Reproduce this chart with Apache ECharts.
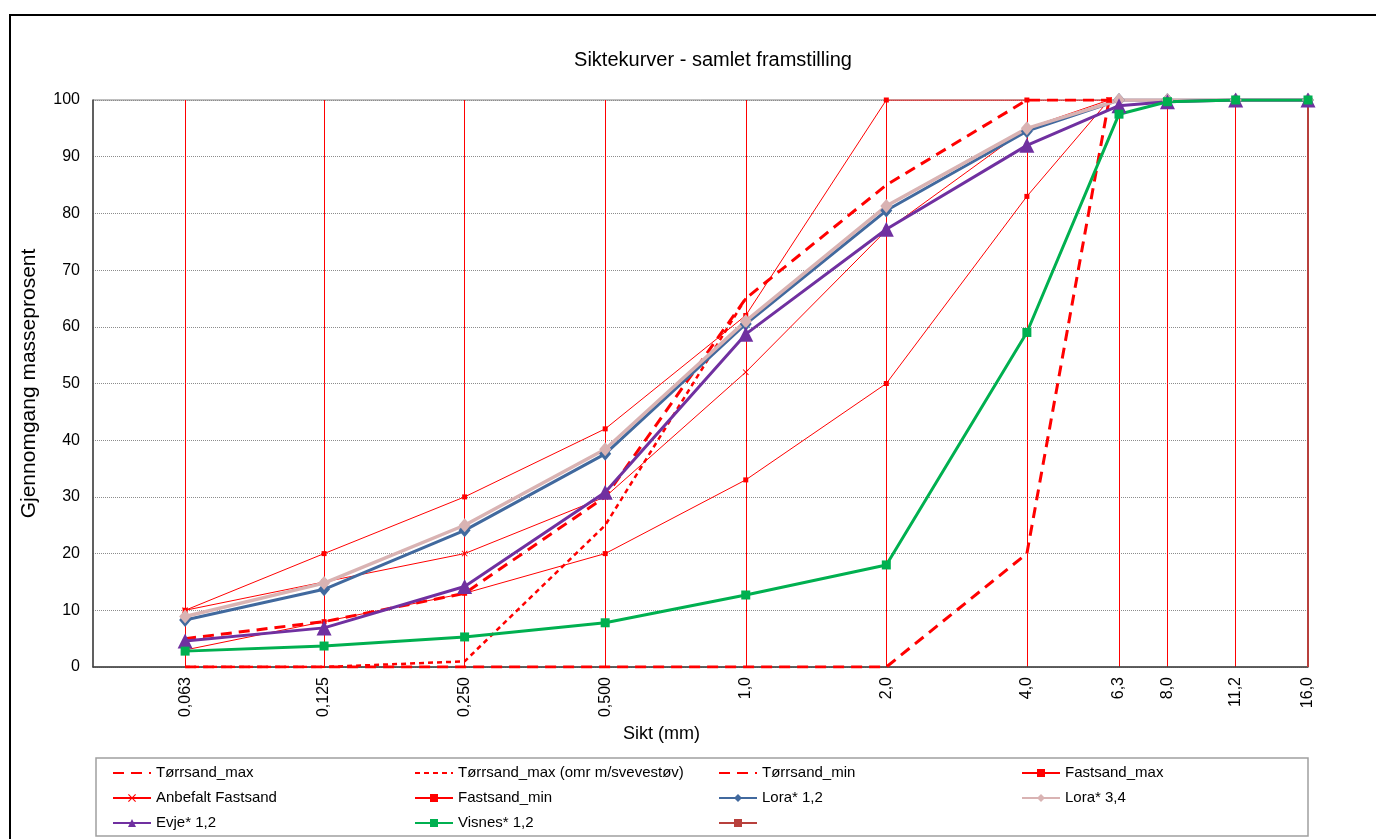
<!DOCTYPE html>
<html>
<head>
<meta charset="utf-8">
<title>Siktekurver - samlet framstilling</title>
<script src="https://cdn.jsdelivr.net/npm/echarts@6/dist/echarts.min.js"></script>
<style>
html,body{margin:0;padding:0;background:#fff;}
#chart{width:1376px;height:839px;}
</style>
</head>
<body>
<div id="chart"></div>
<script>
// siktene (mm)
var sikt_krav=[0.063,0.125,0.25,0.5,1,2,4,6];
var sikt_prove=[0.063,0.125,0.25,0.5,1,2,4,6.3,8,11.2,16];
var sikt_labels=["0,063","0,125","0,250","0,500","1,0","2,0","4,0","6,3","8,0","11,2","16,0"];

// kravkurver (masseprosent)
var torrsand_max=[5,8,13,30,65,85,100,100];
var torrsand_omr=[0,0,1,25,65,null,null,null];
var torrsand_min=[0,0,0,0,0,0,20,100];
var fastsand_max=[10,20,30,42,62,100,100,100];
var anbefalt_fastsand=[10,15,20,30,52,77,95,100];
var fastsand_min=[3,8,13,20,33,50,83,100];

// prøver
var lora12=[8.3,13.7,24.1,37.6,60.5,80.5,94.5,100,100,100,100];
var lora34=[8.9,14.8,25,38.4,61,81.3,95,100,100,100,100];
var evje12=[4.6,6.9,14.2,30.8,58.7,77.2,92,99,99.7,100,100];
var visnes12=[2.8,3.7,5.3,7.8,12.7,18,59,97.5,99.7,100,100];

// serie uten navn (strek ved 16 mm)
var siste_x=[16,16];
var siste_y=[0,100];

var font="'Liberation Sans', Arial, sans-serif";

function par(xs,ys){
    return xs.map(function(x,i){return [x,ys[i]];});
}

function siktLabel(v){
    var best=0;
    for(var i=1;i<sikt_prove.length;i++){
        if(Math.abs(Math.log(sikt_prove[i]/v))<Math.abs(Math.log(sikt_prove[best]/v))) best=i;
    }
    return sikt_labels[best];
}

var xSymbol='path://M0,1L1,0L5,4L9,0L10,1L6,5L10,9L9,10L5,6L1,10L0,9L4,5Z';

function kravSerie(navn,data,stil){
    var s={
        name:navn,
        type:'line',
        data:data,
        symbol:'none',
        lineStyle:{color:'#ff0000',width:1},
        itemStyle:{color:'#ff0000'}
    };
    for(var k in stil) s[k]=stil[k];
    return s;
}

// legend: 4 kolonner
var legendCols=[
    {left:112,names:['Tørrsand_max','Anbefalt Fastsand','Evje* 1,2']},
    {left:414,names:['Tørrsand_max (omr m/svevestøv)','Fastsand_min','Visnes* 1,2']},
    {left:718,names:['Tørrsand_min','Lora* 1,2',' ']},
    {left:1021,names:['Fastsand_max','Lora* 3,4']}
];
var utenSymbol=['Tørrsand_max','Tørrsand_max (omr m/svevestøv)','Tørrsand_min'];
var legends=legendCols.map(function(c){
    return {
        orient:'vertical',
        left:c.left,
        top:764,
        height:80,
        padding:0,
        itemWidth:38,
        itemHeight:10,
        itemGap:7,
        textStyle:{fontSize:15,color:'#000',fontFamily:font,lineHeight:18},
        data:c.names.map(function(n){
            if(utenSymbol.indexOf(n)>=0) return {name:n,itemStyle:{opacity:0}};
            return n;
        })
    };
});

var chart=echarts.init(document.getElementById("chart"));
var option={
    animation:false,
    backgroundColor:'#fff',
    textStyle:{fontFamily:font},
    title:{
        text:'Siktekurver - samlet framstilling',
        left:708,
        top:45,
        textAlign:'center',
        textStyle:{fontSize:20,fontWeight:'normal',color:'#000',fontFamily:font}
    },
    graphic:[
        {type:'rect',shape:{x:10,y:15,width:1400,height:900},style:{fill:null,stroke:'#000',lineWidth:2},silent:true},
        {type:'rect',shape:{x:96,y:758,width:1212,height:78},style:{fill:null,stroke:'#a0a0a0',lineWidth:1.5},silent:true}
    ],
    legend:legends,
    grid:{
        left:93,
        right:68,
        top:100,
        bottom:172,
        show:true,
        borderColor:'#808080',
        borderWidth:1
    },
    xAxis:{
        type:'log',
        logBase:10,
        min:0.04,
        max:16,
        name:'Sikt (mm)',
        nameLocation:'middle',
        nameGap:51,
        nameTextStyle:{fontSize:18,color:'#000',fontFamily:font,padding:[0,78,0,0]},
        axisLine:{show:true,lineStyle:{color:'#404040',width:1.5}},
        axisTick:{show:false,customValues:sikt_prove},
        axisLabel:{
            customValues:sikt_prove,
            rotate:90,
            margin:10,
            fontSize:16,
            color:'#000',
            fontFamily:font,
            formatter:siktLabel
        },
        // røde loddrette linjer ved hver sikt
        splitLine:{show:true,lineStyle:{color:'#ff0000',width:1}},
        minorTick:{show:false},
        minorSplitLine:{show:false}
    },
    yAxis:{
        type:'value',
        min:0,
        max:100,
        interval:10,
        name:'Gjennomgang masseprosent',
        nameLocation:'middle',
        nameGap:53,
        nameTextStyle:{fontSize:21,color:'#000',fontFamily:font},
        axisLine:{show:true,lineStyle:{color:'#404040',width:1.5}},
        axisTick:{show:false},
        axisLabel:{fontSize:16,color:'#000',margin:13,fontFamily:font},
        splitLine:{show:true,lineStyle:{color:'#8c8c8c',width:1,type:[1,1]}}
    },
    series:[
        kravSerie('Tørrsand_max',par(sikt_krav,torrsand_max),{
            lineStyle:{color:'#ff0000',width:3,type:[11,7]}
        }),
        kravSerie('Tørrsand_max (omr m/svevestøv)',par(sikt_krav,torrsand_omr),{
            lineStyle:{color:'#ff0000',width:2.5,type:[5,4]}
        }),
        kravSerie('Tørrsand_min',par(sikt_krav,torrsand_min),{
            lineStyle:{color:'#ff0000',width:3,type:[11,7]}
        }),
        kravSerie('Fastsand_max',par(sikt_krav,fastsand_max),{
            symbol:'rect',symbolSize:5,showSymbol:true
        }),
        kravSerie('Anbefalt Fastsand',par(sikt_krav,anbefalt_fastsand),{
            symbol:xSymbol,symbolSize:6,showSymbol:true
        }),
        kravSerie('Fastsand_min',par(sikt_krav,fastsand_min),{
            symbol:'rect',symbolSize:5,showSymbol:true
        }),
        {
            name:'Lora* 1,2',type:'line',data:par(sikt_prove,lora12),
            symbol:'diamond',symbolSize:[12,14],
            lineStyle:{color:'#41699e',width:3},
            itemStyle:{color:'#41699e'}
        },
        {
            name:'Lora* 3,4',type:'line',data:par(sikt_prove,lora34),
            symbol:'diamond',symbolSize:[12,14],
            lineStyle:{color:'#d9b3b3',width:3.5},
            itemStyle:{color:'#d9b3b3'}
        },
        {
            name:'Evje* 1,2',type:'line',data:par(sikt_prove,evje12),
            symbol:'triangle',symbolSize:15,
            lineStyle:{color:'#7030a0',width:3},
            itemStyle:{color:'#7030a0'}
        },
        {
            name:'Visnes* 1,2',type:'line',data:par(sikt_prove,visnes12),
            symbol:'rect',symbolSize:9,
            lineStyle:{color:'#00b050',width:3},
            itemStyle:{color:'#00b050'}
        },
        {
            name:' ',type:'line',data:par(siste_x,siste_y),
            symbol:'rect',symbolSize:4,showSymbol:false,
            lineStyle:{color:'#b8403c',width:2},
            itemStyle:{color:'#b8403c'}
        }
    ]
};
chart.setOption(option);
</script>
</body>
</html>
